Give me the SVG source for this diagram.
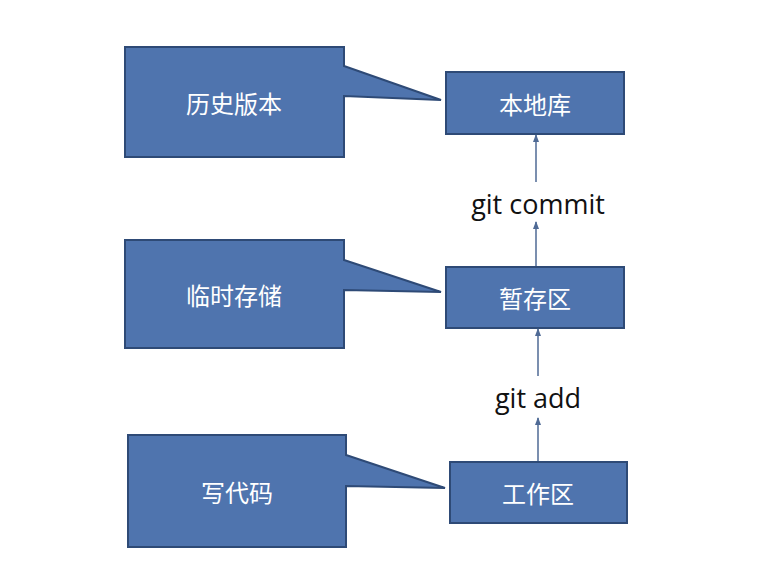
<svg xmlns="http://www.w3.org/2000/svg" width="762" height="584" viewBox="0 0 762 584">
<defs>
<style>
.b{fill:#4F74AE;stroke:#2E4A76;stroke-width:2}
.t{fill:#fff;font-family:"Noto Sans CJK SC","Noto Sans",sans-serif;font-size:24px;text-anchor:middle;dominant-baseline:central}
.l{fill:#111;font-family:"Open Sans","Liberation Sans",sans-serif;font-size:27px;text-anchor:middle;dominant-baseline:central}
.c{stroke:#4F6A95;stroke-width:1.5;fill:none;marker-end:url(#a)}
</style>
<marker id="a" markerWidth="8" markerHeight="8" refX="7" refY="4" orient="auto" markerUnits="userSpaceOnUse"><path d="M0,1 L8,4 L0,7 Z" fill="#4F6A95"/></marker>
</defs>
<rect width="762" height="584" fill="#fff"/>
<g id="n-hist"><path class="b" d="M125,47 H344 V66 L441,100 L344,96 V157 H125 Z"/><text class="t" x="234" y="102">历史版本</text></g>
<g id="n-temp"><path class="b" d="M125,240 H344 V260 L441,292 L344,290 V348 H125 Z"/><text class="t" x="234" y="294">临时存储</text></g>
<g id="n-code"><path class="b" d="M128,435 H346 V455 L445,488 L346,486 V547 H128 Z"/><text class="t" x="237" y="491">写代码</text></g>
<g id="n-repo"><rect class="b" x="446" y="72" width="178" height="62"/><text class="t" x="535" y="103">本地库</text></g>
<g id="n-stage"><rect class="b" x="446" y="267" width="178" height="61"/><text class="t" x="535" y="297">暂存区</text></g>
<g id="n-work"><rect class="b" x="450" y="462" width="177" height="61"/><text class="t" x="538" y="492">工作区</text></g>
<g id="connectors">
<path class="c" d="M536,266 V222"/><path d="M536,182 V135" class="c"/>
<text class="l" x="538" y="203">git commit</text>
<path class="c" d="M538,461 V418"/><path d="M538,376 V329" class="c"/>
<text class="l" x="538" y="397">git add</text>
</g>
</svg>
